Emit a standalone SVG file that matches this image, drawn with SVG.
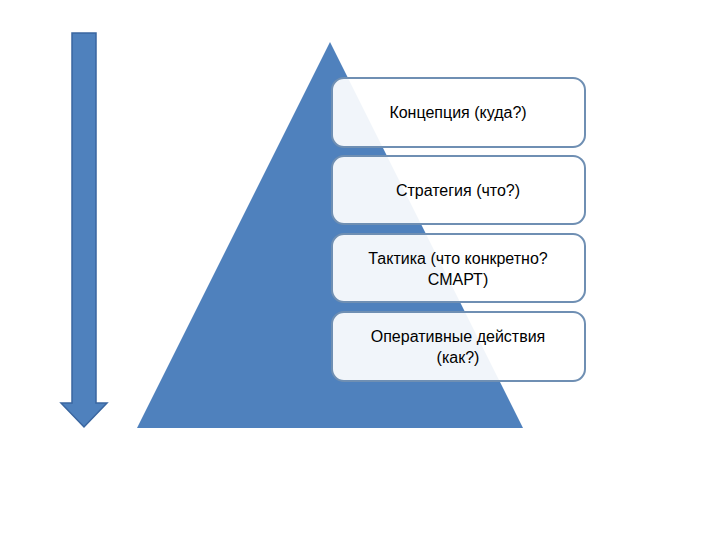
<svg xmlns="http://www.w3.org/2000/svg" width="720" height="540" viewBox="0 0 720 540">
<style>
.box{fill:#ffffff;fill-opacity:0.92;stroke:#6f8fb3;stroke-width:2}
.t{font-family:"Liberation Sans",Arial,sans-serif;font-size:16px;fill:#000;text-anchor:middle}
</style>
<rect width="720" height="540" fill="#fff"/>
<g id="arrow"><path d="M72,33 H96 V403 H107 L84,427 L61,403 H72 Z" fill="#4f81bd" stroke="#3a66a0" stroke-width="1.5"/></g>
<g id="pyramid"><path d="M330,42 L523,428 L137,428 Z" fill="#4f81bd"/></g>
<g id="n1"><rect class="box" x="332" y="78" width="253" height="69" rx="12"/><text class="t" x="458" y="118">Концепция (куда?)</text></g>
<g id="n2"><rect class="box" x="332" y="156" width="253" height="68" rx="12"/><text class="t" x="458" y="196">Стратегия (что?)</text></g>
<g id="n3"><rect class="box" x="332" y="234" width="253" height="68" rx="12"/><text class="t" x="458" y="264">Тактика (что конкретно?</text><text class="t" x="458" y="285">СМАРТ)</text></g>
<g id="n4"><rect class="box" x="332" y="312" width="253" height="69" rx="12"/><text class="t" x="458" y="342">Оперативные действия</text><text class="t" x="458" y="363">(как?)</text></g>
<g id="connectors"></g>
</svg>
